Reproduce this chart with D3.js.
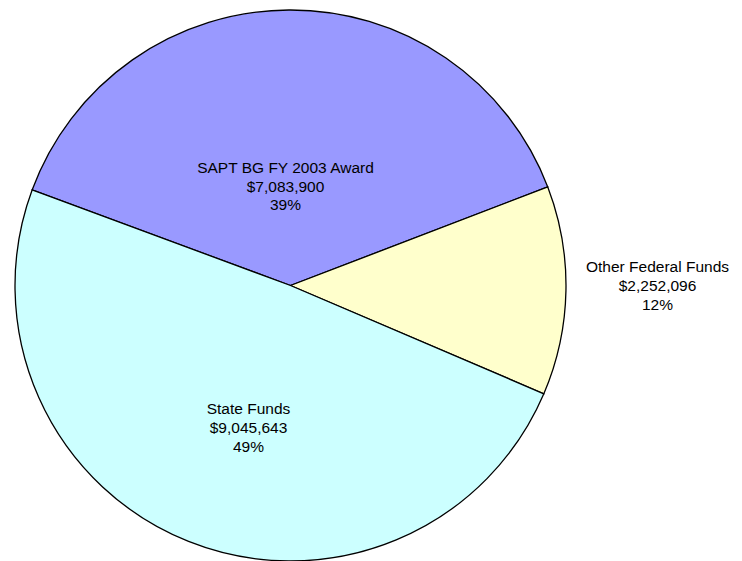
<!DOCTYPE html>
<html>
<head>
<meta charset="utf-8">
<script src="https://cdn.jsdelivr.net/npm/d3@7"></script>
<style>
  body { margin: 0; background: #fff; }
  svg { display: block; }
</style>
</head>
<body>
<svg id="drawing_region"></svg>
<script>
// data
const labels = ["SAPT BG FY 2003 Award", "Other Federal Funds", "State Funds"];
const amounts = [7083900, 2252096, 9045643];
const colors = ["#9999FF", "#FFFFCC", "#CCFFFF"];

const data = labels.map((label, i) => ({ label: label, amount: amounts[i], color: colors[i] }));

const width = 742, height = 561;
const cx = 290.5, cy = 285.5, radius = 275.5;
const startDeg = -69.7;

const svg = d3.select('#drawing_region')
    .attr('width', width)
    .attr('height', height);

const total = d3.sum(amounts);

const pie = d3.pie()
    .sort(null)
    .value(d => d.amount)
    .startAngle(startDeg * Math.PI / 180)
    .endAngle(startDeg * Math.PI / 180 + 2 * Math.PI);

const arc = d3.arc()
    .innerRadius(0)
    .outerRadius(radius);

const g = svg.append('g')
    .attr('transform', `translate(${cx}, ${cy})`);

const arcs = pie(data);

g.selectAll('path')
    .data(arcs)
    .join('path')
    .attr('d', arc)
    .attr('fill', d => d.data.color)
    .attr('stroke', '#000')
    .style('stroke-width', '1.3px');

// label positions (middle line baseline): inside for the big slices, outside for the small one
const labelPos = [
    [-5, -94],
    [367, 5.5],
    [-42, 147.5]
];

const fmt = d3.format('$,');
const lines = d => [
    d.data.label,
    fmt(d.data.amount),
    Math.round(d.data.amount / total * 100) + '%'
];

const labelGroups = g.selectAll('g.label')
    .data(arcs)
    .join('g')
    .attr('class', 'label')
    .attr('transform', (d, i) => `translate(${labelPos[i][0]}, ${labelPos[i][1]})`);

labelGroups.selectAll('text')
    .data(d => lines(d))
    .join('text')
    .attr('x', 0)
    .attr('y', (t, j) => (j - 1) * 18.8)
    .attr('text-anchor', 'middle')
    .style('font-family', 'Liberation Sans, Arial, sans-serif')
    .style('font-size', '15.5px')
    .style('fill', '#000')
    .text(t => t);
</script>
</body>
</html>
